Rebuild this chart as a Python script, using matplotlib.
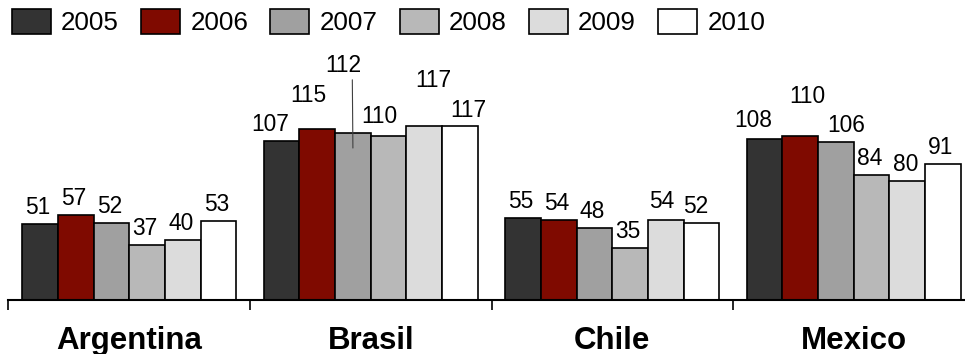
import matplotlib
matplotlib.use('Agg')
import matplotlib.pyplot as plt
from matplotlib.patches import Patch
import numpy as np

plt.rcParams['font.family'] = ['Liberation Sans', 'DejaVu Sans']

countries = ['Argentina', 'Brasil', 'Chile', 'Mexico']
years = ['2005', '2006', '2007', '2008', '2009', '2010']

v2005 = [51, 107, 55, 108]
v2006 = [57, 115, 54, 110]
v2007 = [52, 112, 48, 106]
v2008 = [37, 110, 35, 84]
v2009 = [40, 117, 54, 80]
v2010 = [53, 117, 52, 91]
series = [v2005, v2006, v2007, v2008, v2009, v2010]

colors = ['#333333', '#7f0a00', '#a0a0a0', '#b8b8b8', '#dcdcdc', '#ffffff']

# label offsets in pixels (dx, dy above bar top), keyed by (year idx, country idx)
label_off = {
    (0, 1): (-11, 10), (1, 1): (-9, 27), (2, 1): (-10, 61), (3, 1): (-9, 13),
    (4, 1): (9, 39), (5, 1): (8, 9),
    (0, 3): (-11, 12), (1, 3): (7, 33), (2, 3): (10, 10),
    (4, 2): (-4, 12), (5, 2): (-6, 10),
}
leader = {(2, 1)}

fig = plt.figure(figsize=(9.65, 3.54), dpi=100)
ax = fig.add_axes([8.5 / 965, 54 / 354, 966 / 965, 255 / 354])

x = np.arange(len(countries))
w = 0.1478
for i, vals in enumerate(series):
    xs = x + (i - 2.5) * w
    ax.bar(xs, vals, width=w, color=colors[i], edgecolor='black', linewidth=1.2,
           label=years[i], zorder=2)
    for j, v in enumerate(vals):
        dx, dy = label_off.get((i, j), (-2, 10))
        if (i, j) in leader:
            ax.annotate(str(v), xy=(xs[j], v - 10), xytext=(dx, dy + 15),
                        textcoords='offset pixels', ha='center', va='baseline',
                        fontsize=16.4, annotation_clip=False,
                        arrowprops=dict(arrowstyle='-', color='#404040', lw=0.8,
                                        shrinkA=0, shrinkB=0, relpos=(0.76, 0)))
        else:
            ax.annotate(str(v), xy=(xs[j], v), xytext=(dx, dy),
                        textcoords='offset pixels', ha='center', va='baseline',
                        fontsize=16.4, annotation_clip=False)

ax.set_xlim(-0.5, 3.5)
ax.set_ylim(0, 255 / 1.49)

for s in ['left', 'right', 'top']:
    ax.spines[s].set_visible(False)
ax.spines['bottom'].set_linewidth(1.5)
ax.set_yticks([])

ax.set_xticks(x)
ax.set_xticklabels(countries, fontsize=22.5, fontweight='bold')
ax.tick_params(axis='x', which='major', length=0, pad=19)
ax.set_xticks([-0.5, 0.5, 1.5, 2.5, 3.5], minor=True)
ax.tick_params(axis='x', which='minor', length=7.5, width=1.2, direction='out')

handles = [Patch(facecolor=c, edgecolor='black', linewidth=1.2) for c in colors]
fig.legend(handles, years, loc='upper left', bbox_to_anchor=(11.7 / 965, 1 - 9 / 354),
           ncol=6, frameon=False, fontsize=18.7, handlelength=1.5, handleheight=1.1,
           handletextpad=0.4, columnspacing=0.85, borderpad=0, borderaxespad=0)

fig.savefig('out.png', dpi=100)
